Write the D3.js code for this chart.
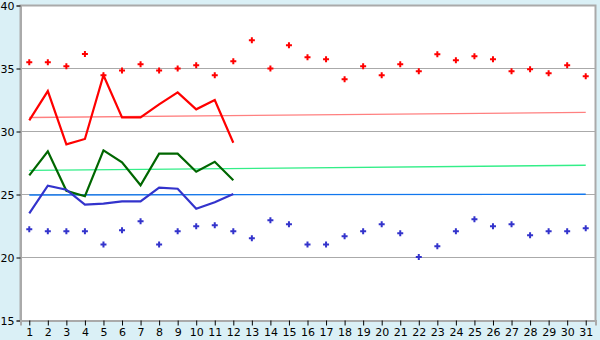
<!DOCTYPE html>
<html>
<head>
<meta charset="utf-8">
<script src="https://cdn.jsdelivr.net/npm/d3@7"></script>
<style>
  body { margin: 0; background: #daf0f6; }
  text { font-family: "DejaVu Sans", sans-serif; fill: #000; }
</style>
</head>
<body>
<script>
let width = 600;
let height = 340;
let margin = {top: 5, right: 5, bottom: 20, left: 20};

var days = d3.range(1, 32);
var yTicks = [15, 20, 25, 30, 35, 40];

var highDots = [35.45, 35.45, 35.13, 36.11, 34.42, 34.81, 35.29, 34.81, 34.97, 35.21,
                34.42, 35.53, 37.2, 34.97, 36.8, 35.85, 35.69, 34.1, 35.13, 34.42,
                35.29, 34.74, 36.09, 35.61, 35.93, 35.69, 34.74, 34.9, 34.58, 35.21, 34.34];
var lowDots = [22.2, 22.04, 22.04, 22.04, 21.0, 22.12, 22.83, 21.0, 22.04, 22.44,
               22.52, 22.04, 21.48, 22.91, 22.6, 21.0, 21.0, 21.64, 22.04, 22.6,
               21.88, 20.0, 20.85, 22.04, 22.99, 22.44, 22.6, 21.72, 22.04, 22.04, 22.28];

var redLine = [30.85, 33.17, 28.94, 29.37, 34.42, 31.08, 31.08, 32.12, 33.07, 31.72, 32.46, 29.07];
var greenLine = [26.48, 28.39, 25.26, 24.82, 28.47, 27.52, 25.69, 28.2, 28.2, 26.77, 27.56, 26.09];
var blueLine = [23.47, 25.66, 25.34, 24.15, 24.23, 24.42, 24.42, 25.5, 25.42, 23.83, 24.35, 25.0];

// trend lines: value at day 1 and day 31
var redTrend = [31.07, 31.48];
var greenTrend = [26.87, 27.28];
var blueTrend = [24.92, 24.98];

var svg = d3.select('body')
            .append('svg')
            .attr('width', width)
            .attr('height', height);

var x = d3.scaleBand().domain(days).range([margin.left, width - margin.right]);
var y = d3.scaleLinear().domain([15, 40]).range([height - margin.bottom, margin.top]);
function cx(d) { return x(d) + x.bandwidth() / 2; }

svg.append('rect')
   .attr('x', margin.left).attr('y', margin.top)
   .attr('width', width - margin.left - margin.right)
   .attr('height', height - margin.top - margin.bottom)
   .attr('fill', '#fff');

// grid
svg.append('g').selectAll('line').data(yTicks.slice(1, -1)).join('line')
   .attr('x1', margin.left).attr('x2', width - margin.right)
   .attr('y1', d => Math.round(y(d)) + 0.5).attr('y2', d => Math.round(y(d)) + 0.5)
   .attr('stroke', '#aaa');

// frame
svg.append('path')
   .attr('d', 'M' + (margin.left + 0.5) + ',' + (height - margin.bottom + 0.5) +
              'V' + (margin.top + 0.5) + 'H' + (width - margin.right + 0.5) +
              'V' + (height - margin.bottom + 0.5))
   .attr('fill', 'none').attr('stroke', '#aaa').attr('stroke-width', 2);

var yAxis = svg.append('g')
   .attr('transform', 'translate(' + (margin.left + 0.5) + ',0.5)')
   .call(d3.axisLeft(y).tickValues(yTicks).tickSize(4).tickPadding(2));
yAxis.select('.domain').attr('stroke', '#aaa').attr('stroke-width', 2);
yAxis.selectAll('.tick line').attr('stroke', '#000');
yAxis.selectAll('.tick text').attr('font-size', 11).attr('font-family', 'DejaVu Sans');

var xAxis = svg.append('g')
   .attr('transform', 'translate(0.5,' + (height - margin.bottom + 0.5) + ')')
   .call(d3.axisBottom(x).tickSize(5).tickPadding(3));
xAxis.select('.domain').attr('stroke', '#aaa').attr('stroke-width', 2);
xAxis.selectAll('.tick line').attr('stroke', '#000');
xAxis.selectAll('.tick text').attr('font-size', 11).attr('font-family', 'DejaVu Sans');

// trend lines
function trend(vals, color) {
  svg.append('line')
     .attr('x1', cx(1)).attr('x2', cx(31))
     .attr('y1', y(vals[0])).attr('y2', y(vals[1]))
     .attr('stroke', color).attr('stroke-width', 1.3);
}
trend(redTrend, '#ff8080');
trend(greenTrend, '#33ee88');
trend(blueTrend, '#1177ee');

var line = d3.line().x((d, i) => cx(i + 1)).y(d => y(d));
function series(vals, color) {
  svg.append('path').datum(vals)
     .attr('d', line)
     .attr('fill', 'none').attr('stroke', color).attr('stroke-width', 2.2)
     .attr('stroke-linejoin', 'miter');
}
series(greenLine, '#006600');
series(blueLine, '#3333cc');
series(redLine, '#ff0000');

var cross = d3.symbol().type(d3.symbolCross).size(20);
function dots(vals, color) {
  svg.append('g').selectAll('path').data(vals).join('path')
     .attr('d', cross)
     .attr('transform', (d, i) => 'translate(' + cx(i + 1) + ',' + y(d) + ')')
     .attr('fill', color);
}
dots(highDots, '#ff0000');
dots(lowDots, '#3333cc');
</script>
</body>
</html>
